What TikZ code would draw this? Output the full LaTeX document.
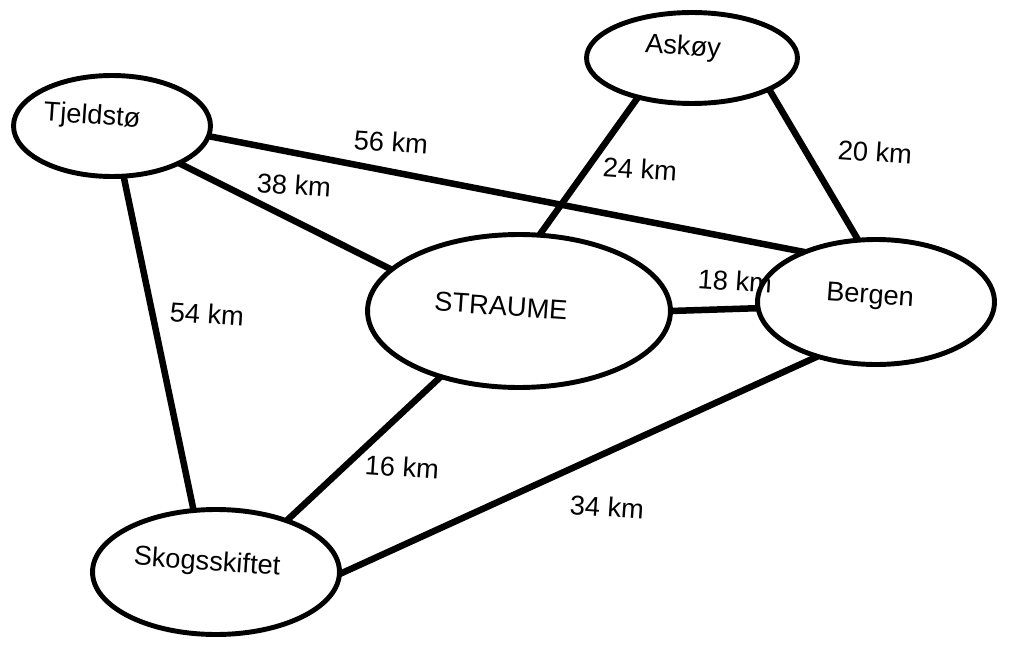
\documentclass[tikz,border=0pt]{standalone}
\usepackage{fontspec}
\setmainfont{Liberation Sans}
\usetikzlibrary{shapes.geometric}
\begin{document}
\begin{tikzpicture}[x=0.02cm,y=-0.02cm,
  town/.style={draw, ellipse, line width=2.8pt, inner sep=0pt, outer sep=0pt},
  road/.style={line width=3.7pt},
  txt/.style={font=\fontsize{15.5}{18}\selectfont, rotate=-4, inner sep=0pt},
]
\useasboundingbox (0,0) rectangle (1010,645);
% towns
\node[town, minimum width=3.94cm, minimum height=2.02cm] (tj) at (112,126) {};
\node[town, minimum width=4.22cm, minimum height=1.82cm] (as) at (692,58) {};
\node[town, minimum width=6.06cm, minimum height=3.06cm] (st) at (519,311) {};
\node[town, minimum width=4.74cm, minimum height=2.50cm] (be) at (876,302) {};
\node[town, minimum width=4.94cm, minimum height=2.50cm] (sk) at (216,572) {};
% town names
\node[txt] (tjn) at (92,117) {Tjeldstø};
\node[txt] (asn) at (683,48) {Askøy};
\node[txt] (stn) at (501,306) {STRAUME};
\node[txt] (ben) at (870,297) {Bergen};
\node[txt] (skn) at (207,563) {Skogsskiftet};
% roads
\draw[road] (tj.-6) -- (be.145.5);
\draw[road] (tj.-29.4) -- (st.162.6);
\draw[road] (tj.-77) -- (sk.110);
\draw[road] (as.-144) -- (st.75);
\draw[road] (as.-22) -- (be.106);
\draw[road] (st.0) -- (be.-177.6);
\draw[road] (st.-140.8) -- (sk.36.7);
\draw[road] (be.-137) -- (sk.-1.4);
% distances
\node[txt] (d56) at (391,142) {56 km};
\node[txt] (d38) at (294,185) {38 km};
\node[txt] (d24) at (640,169) {24 km};
\node[txt] (d20) at (875,152) {20 km};
\node[txt] (d18) at (735,281) {18 km};
\node[txt] (d54) at (207,314) {54 km};
\node[txt] (d16) at (402,467) {16 km};
\node[txt] (d34) at (607,507) {34 km};
\end{tikzpicture}
\end{document}
